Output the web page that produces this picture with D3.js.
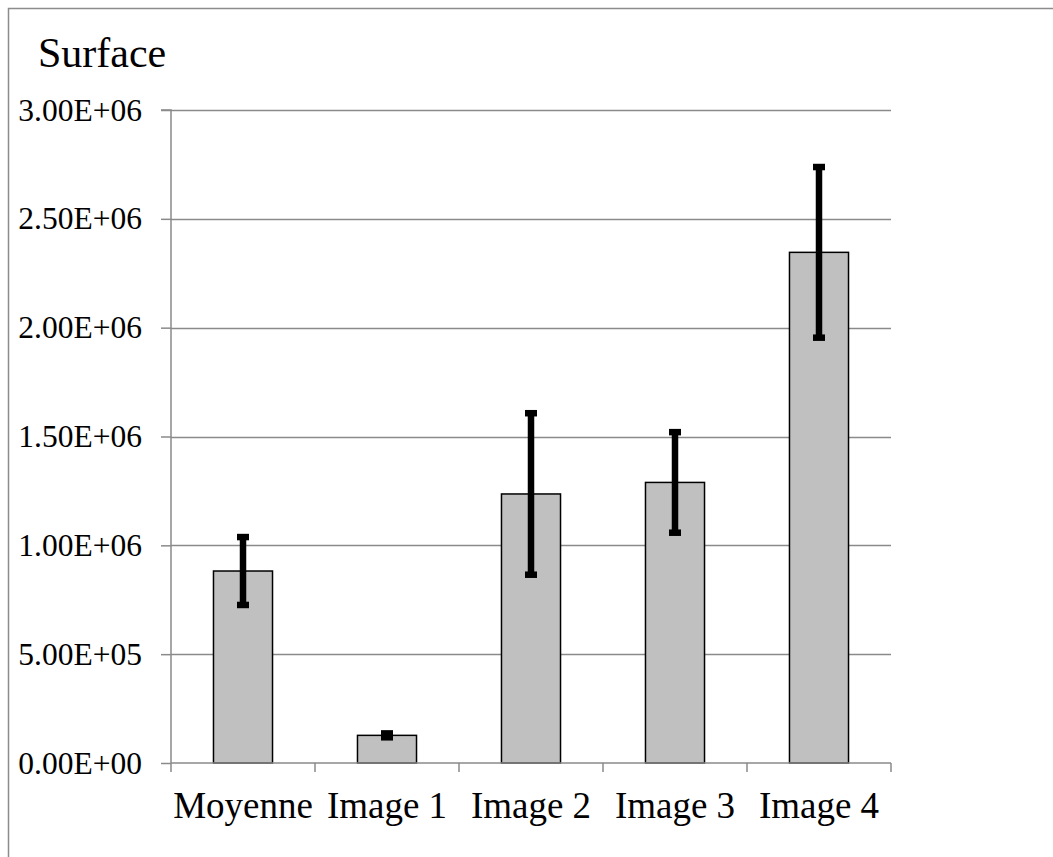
<!DOCTYPE html>
<html>
<head>
<meta charset="utf-8">
<script src="https://cdn.jsdelivr.net/npm/d3@7/dist/d3.min.js"></script>
<style>
  html, body { margin: 0; padding: 0; background: #fff; }
  svg { display: block; }
  text { font-family: "Liberation Serif", Tinos, "Times New Roman", Times, "Nimbus Roman", "DejaVu Serif", serif; fill: #000; }
</style>
</head>
<body>
<svg id="chart" width="1053" height="857"></svg>
<script>
// ---- data ----
const categories = ["Moyenne", "Image 1", "Image 2", "Image 3", "Image 4"];
const values     = [882000, 127000, 1236000, 1289000, 2346000];
const errors     = [156000, 9000, 371000, 231000, 392000];
const tickValues = [0, 500000, 1000000, 1500000, 2000000, 2500000, 3000000];
const tickLabels = ["0.00E+00", "5.00E+05", "1.00E+06", "1.50E+06", "2.00E+06", "2.50E+06", "3.00E+06"];
const title = "Surface";

const FONT = '"Liberation Serif", Tinos, "Times New Roman", Times, "Nimbus Roman", "DejaVu Serif", serif';

// ---- layout ----
const svg = d3.select("#chart");
const plot = { left: 171, right: 891, top: 110, bottom: 763 };

// outer frame (left and top edges visible)
svg.append("rect")
  .attr("x", 8.5).attr("y", 8.5)
  .attr("width", 1100).attr("height", 1000)
  .attr("fill", "none").attr("stroke", "#8c8c8c").attr("stroke-width", 1.5);

const x = d3.scaleBand().domain(categories).range([plot.left, plot.right]).paddingInner(0).paddingOuter(0);
const y = d3.scaleLinear().domain([0, 3000000]).range([plot.bottom, plot.top]);
const barW = x.bandwidth() * 0.41;

// gridlines
svg.append("g").selectAll("line").data(tickValues.filter(v => v > 0)).join("line")
  .attr("x1", plot.left).attr("x2", plot.right)
  .attr("y1", d => Math.round(y(d)) + 0.5).attr("y2", d => Math.round(y(d)) + 0.5)
  .attr("stroke", "#8a8a8a").attr("stroke-width", 1.5);

// y axis
const yAxis = d3.axisLeft(y).tickValues(tickValues)
  .tickFormat((d, i) => tickLabels[i]).tickSize(10).tickPadding(19);
const gy = svg.append("g").attr("transform", `translate(${plot.left},0)`).call(yAxis);
gy.attr("font-family", null);
gy.select(".domain").attr("stroke", "#8a8a8a").attr("stroke-width", 1.5)
  .attr("d", `M-10,${plot.top}H0V${plot.bottom}`);
gy.selectAll(".tick line").attr("stroke", "#8a8a8a").attr("stroke-width", 1.5);
gy.selectAll(".tick text")
  .style("font-family", FONT)
  .style("font-size", "31.5px").attr("fill", "#000").attr("dy", "0.32em");

// bars
svg.append("g").selectAll("rect").data(categories).join("rect")
  .attr("x", d => x(d) + x.bandwidth() / 2 - barW / 2)
  .attr("width", barW)
  .attr("y", (d, i) => y(values[i]))
  .attr("height", (d, i) => y(0) - y(values[i]))
  .attr("fill", "#c0c0c0").attr("stroke", "#000").attr("stroke-width", 1.5);

// x axis
const xAxis = d3.axisBottom(x).tickSize(0).tickPadding(29);
const gx = svg.append("g").attr("transform", `translate(0,${plot.bottom})`).call(xAxis);
gx.attr("font-family", null);
gx.select(".domain").attr("stroke", "#8a8a8a").attr("stroke-width", 1.5)
  .attr("d", `M${plot.left},0H${plot.right}`);
gx.selectAll(".tick text")
  .style("font-family", FONT)
  .style("font-size", "37px").attr("fill", "#000");
// category boundary ticks
const bounds = categories.map(c => x(c)).concat([plot.right]);
svg.append("g").selectAll("line").data(bounds).join("line")
  .attr("x1", d => d).attr("x2", d => d)
  .attr("y1", plot.bottom).attr("y2", plot.bottom + 9)
  .attr("stroke", "#8a8a8a").attr("stroke-width", 1.5);

// error bars
const eg = svg.append("g");
categories.forEach((c, i) => {
  const cx = x(c) + x.bandwidth() / 2;
  const hi = y(values[i] + errors[i]);
  const lo = y(values[i] - errors[i]);
  eg.append("line").attr("x1", cx).attr("x2", cx).attr("y1", hi).attr("y2", lo)
    .attr("stroke", "#000").attr("stroke-width", 6.5);
  [hi, lo].forEach(yy => {
    eg.append("rect").attr("x", cx - 6).attr("y", yy - 3.25)
      .attr("width", 12).attr("height", 6.5).attr("fill", "#000");
  });
});

// title
svg.append("text").attr("x", 38).attr("y", 67)
  .style("font-family", FONT)
  .style("font-size", "42px").text(title);
</script>
</body>
</html>
